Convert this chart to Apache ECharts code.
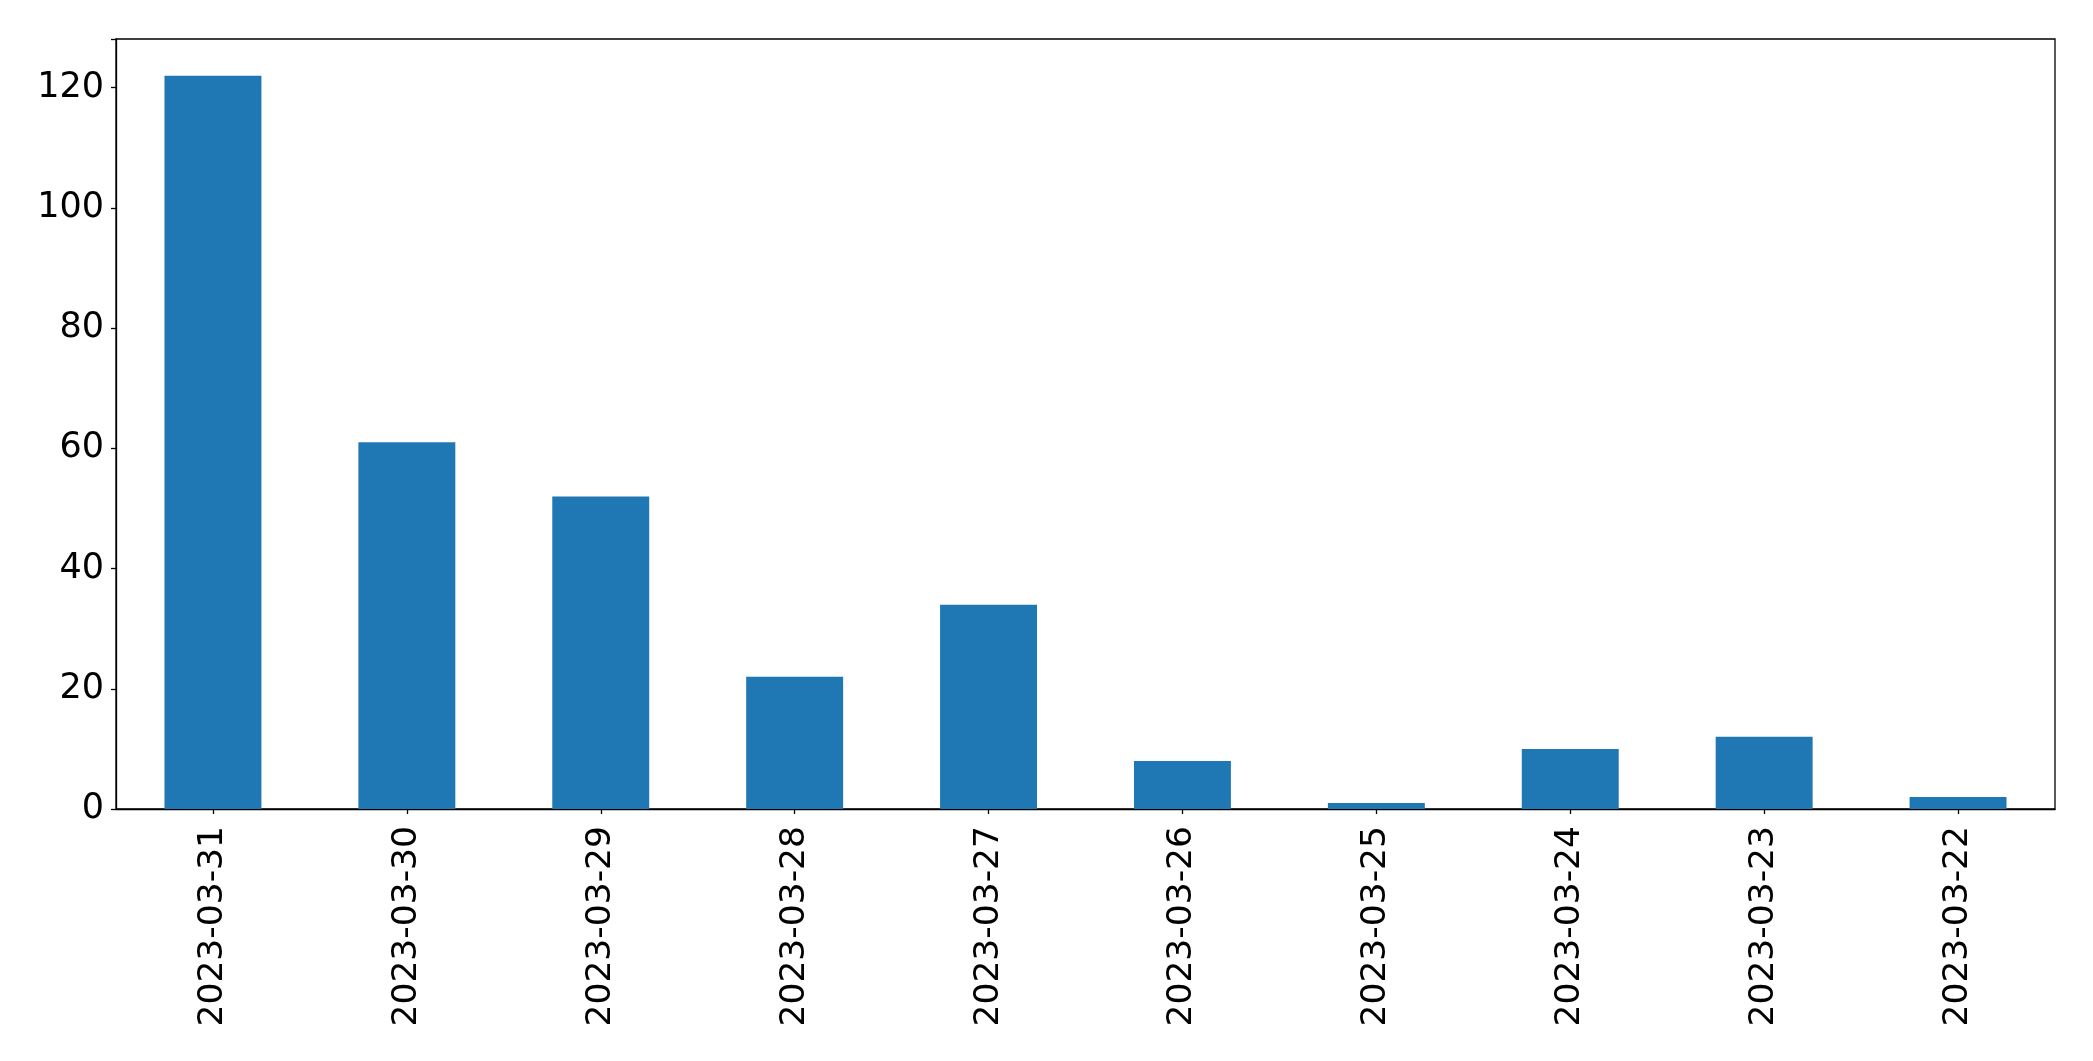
<!DOCTYPE html>
<html>
<head>
<meta charset="utf-8">
<script src="https://cdn.jsdelivr.net/npm/echarts@6/dist/echarts.min.js"></script>
<style>html,body{margin:0;padding:0;background:#fff;}#c{width:2093px;height:1061px;}</style>
</head>
<body>
<div id="c"></div>
<script>
const categories = ["2023-03-31","2023-03-30","2023-03-29","2023-03-28","2023-03-27","2023-03-26","2023-03-25","2023-03-24","2023-03-23","2023-03-22"];
const counts = [122, 61, 52, 22, 34, 8, 1, 10, 12, 2];
const yTicks = [0, 20, 40, 60, 80, 100, 120];

const chart = echarts.init(document.getElementById('c'), null, {renderer: 'canvas'});
chart.setOption({
  animation: false,
  grid: {left: 116, top: 39, width: 1939, height: 770, show: true, borderColor: '#000', borderWidth: 1.3, backgroundColor: 'transparent'},
  xAxis: {
    type: 'category', data: categories,
    axisLine: {lineStyle: {color: '#000', width: 1.3}},
    axisTick: {show: true, alignWithLabel: true, length: 5, lineStyle: {color: '#000', width: 1.3}},
    axisLabel: {rotate: 90, margin: 17, fontSize: 34.5, color: '#000', fontFamily: 'DejaVu Sans'},
    splitLine: {show: false}
  },
  yAxis: {
    type: 'value', min: 0, max: 128.1, interval: 20,
    axisLine: {show: true, lineStyle: {color: '#000', width: 1.3}},
    axisTick: {show: true, length: 5, lineStyle: {color: '#000', width: 1.3}},
    axisLabel: {margin: 12, fontSize: 35, color: '#000', fontFamily: 'DejaVu Sans', padding: [4, 0, 0, 0],
      formatter: v => yTicks.includes(v) ? String(v) : ''},
    splitLine: {show: false}
  },
  series: [{type: 'bar', data: counts, barWidth: '50%', itemStyle: {color: '#1f77b4'}}]
});
</script>
</body>
</html>
